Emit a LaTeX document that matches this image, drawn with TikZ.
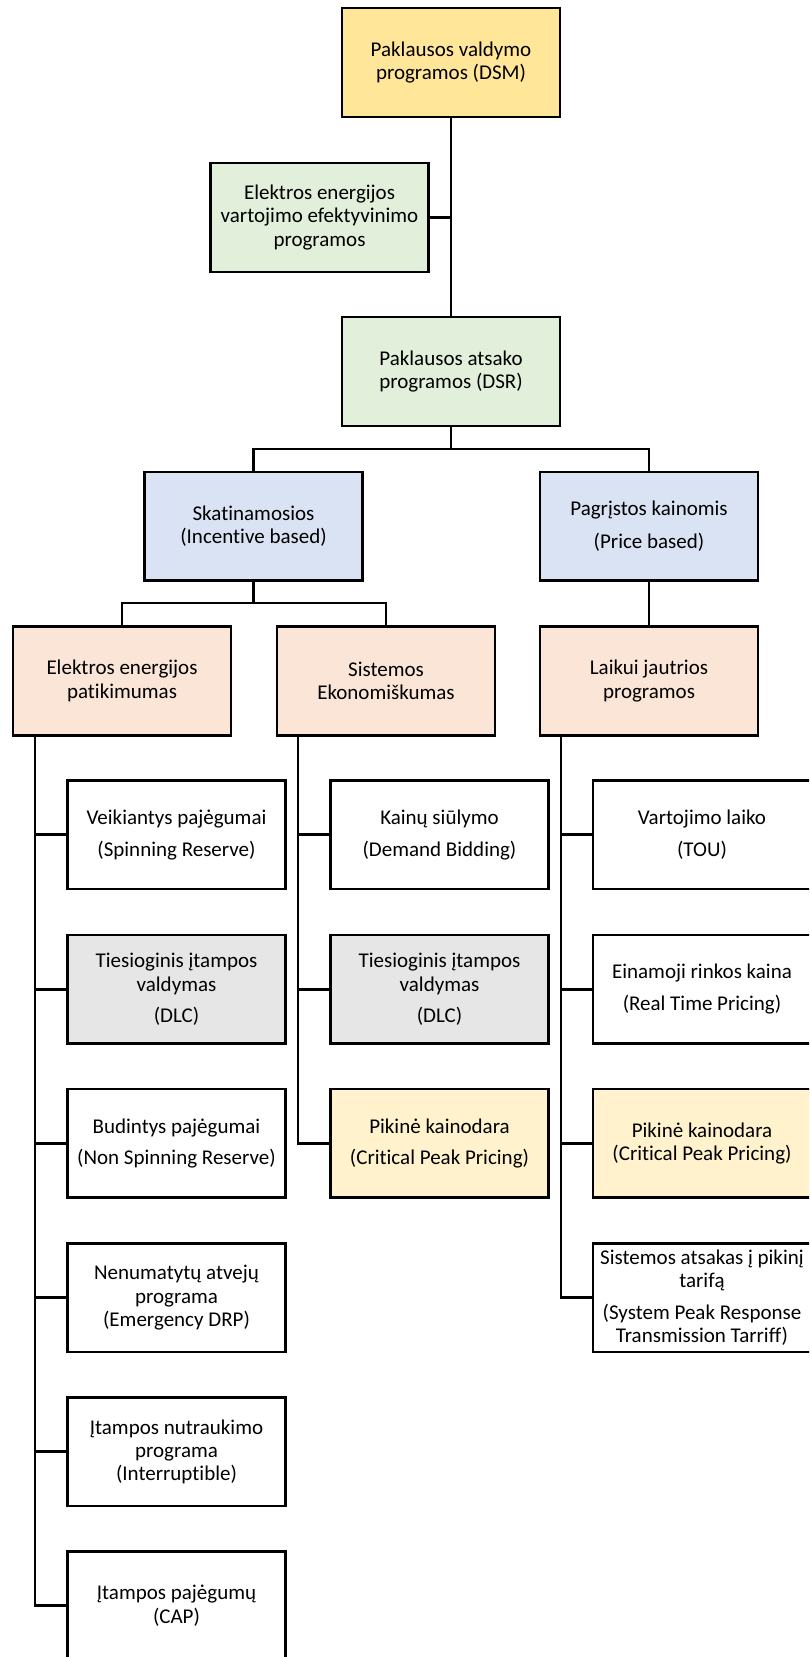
\documentclass[tikz,border=0pt]{standalone}
\usepackage{fontspec}
\setmainfont{Carlito}[RawFeature={-liga;-clig;-dlig;-calt}]
\usetikzlibrary{calc}

\definecolor{dsmY}{HTML}{FFE699}
\definecolor{grn}{HTML}{E2EFDA}
\definecolor{blu}{HTML}{DAE3F3}
\definecolor{pch}{HTML}{FBE5D6}
\definecolor{gry}{HTML}{E7E6E6}
\definecolor{ylw}{HTML}{FFF2CC}

\tikzset{
  box/.style={draw=black, line width=2.3pt, minimum width=218pt, minimum height=109pt,
    inner sep=0pt, outer sep=0pt, anchor=north west, align=center,
    font=\fontsize{21}{23.3}\selectfont},
  leaf/.style={box, minimum height=108.5pt},
  wire/.style={draw=black, line width=2.7pt}
}

\begin{document}
\begin{tikzpicture}[x=1pt, y=-1pt]
\useasboundingbox (0,0) rectangle (809,1657);
\clip (0,0) rectangle (809,1657);
\fill[white] (0,0) rectangle (809,1657);

% heights of the two horizontal buses
\coordinate (yA) at (0,449);
\coordinate (yB) at (0,603);

% upper levels
\node[box, fill=dsmY] (dsm) at (342,8) {Paklausos valdymo\\programos (DSM)};
\node[box, fill=grn] (eff) at (210.5,163) {Elektros energijos\\vartojimo efektyvinimo\\programos};
\node[box, fill=grn] (dsr) at (342,317) {Paklausos atsako\\programos (DSR)};
\node[box, fill=blu, minimum height=108.5pt] (skat) at (144.5,472) {Skatinamosios\\(Incentive based)};
\node[box, fill=blu, minimum height=108.5pt] (pagr) at (540,472) {Pagrįstos kainomis\\[9pt](Price based)};
\node[box, fill=pch] (elek) at (13,626.5) {Elektros energijos\\patikimumas};
\node[box, fill=pch] (sist) at (277,626.5) {Sistemos\\Ekonomiškumas};
\node[box, fill=pch] (laik) at (540,626.5) {Laikui jautrios\\programos};

% left column
\node[leaf] (L1) at (67.5,780.5) {Veikiantys pajėgumai\\[9pt](Spinning Reserve)};
\node[leaf, fill=gry] (L2) at (67.5,935) {Tiesioginis įtampos\\valdymas\\[8pt](DLC)};
\node[leaf] (L3) at (67.5,1089) {Budintys pajėgumai\\[8pt](Non Spinning Reserve)};
\node[leaf] (L4) at (67.5,1243.5) {Nenumatytų atvejų\\programa\\(Emergency DRP)};
\node[leaf] (L5) at (67.5,1397.5) {Įtampos nutraukimo\\programa\\(Interruptible)};
\node[leaf] (L6) at (67.5,1551.5) {Įtampos pajėgumų\\(CAP)};

% middle column
\node[leaf] (M1) at (330.5,780.5) {Kainų siūlymo\\[9pt](Demand Bidding)};
\node[leaf, fill=gry] (M2) at (330.5,935) {Tiesioginis įtampos\\valdymas\\[8pt](DLC)};
\node[leaf, fill=ylw] (M3) at (330.5,1089) {Pikinė kainodara\\[8pt](Critical Peak Pricing)};

% right column
\node[leaf] (R1) at (593,780.5) {Vartojimo laiko\\[9pt](TOU)};
\node[leaf] (R2) at (593,935) {Einamoji rinkos kaina\\[9pt](Real Time Pricing)};
\node[leaf, fill=ylw] (R3) at (593,1089) {Pikinė kainodara\\(Critical Peak Pricing)};
\node[leaf] (R4) at (593,1243.5) {Sistemos atsakas į pikinį\\tarifą\\[8pt](System Peak Response\\Transmission Tarriff)};

% top spine
\draw[wire] (dsm.south) -- (dsr.north);
\draw[wire] (eff.east) -- (eff.east -| dsm.south);

% buses
\draw[wire] (dsr.south) -- (dsr.south |- yA);
\draw[wire] (skat.north) |- (dsr.south |- yA) -| (pagr.north);
\draw[wire] (skat.south) -- (skat.south |- yB);
\draw[wire] (elek.north) |- (skat.south |- yB) -| (sist.north);
\draw[wire] (pagr.south) -- (laik.north);

% column spines
\coordinate (sL) at ([xshift=22pt]elek.south west);
\coordinate (sM) at ([xshift=21pt]sist.south west);
\coordinate (sR) at ([xshift=21pt]laik.south west);
\draw[wire] (sL) |- (L6.west);
\foreach \n in {L1,L2,L3,L4,L5} \draw[wire] (\n.west) -- (\n.west -| sL);
\draw[wire] (sM) |- (M3.west);
\foreach \n in {M1,M2} \draw[wire] (\n.west) -- (\n.west -| sM);
\draw[wire] (sR) |- (R4.west);
\foreach \n in {R1,R2,R3} \draw[wire] (\n.west) -- (\n.west -| sR);
\end{tikzpicture}
\end{document}
